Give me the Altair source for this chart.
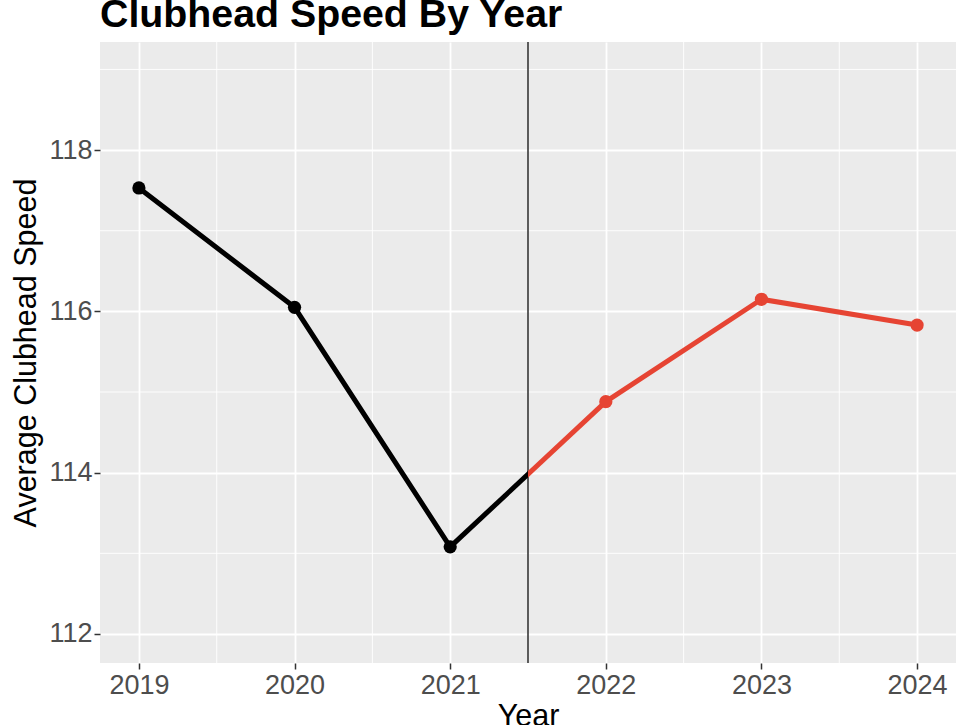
import altair as alt
import pandas as pd

years = [2019, 2020, 2021, 2022, 2023, 2024]
speed = [117.53, 116.05, 113.08, 114.88, 116.15, 115.83]
cutoff = 2021.5
x_ticks = [2019, 2020, 2021, 2022, 2023, 2024]
y_ticks = [112, 114, 116, 118]
x_minor = [2019.5, 2020.5, 2021.5, 2022.5, 2023.5]
y_minor = [113, 115, 117, 119]
x_domain = [2018.75, 2024.25]
y_domain = [111.64, 119.34]

RED = "#E64433"
FONT = "Liberation Sans"

df = pd.DataFrame({"year": years, "speed": speed})
df["period"] = ["before" if y < cutoff else "after" for y in years]

xs = alt.Scale(domain=x_domain, nice=False, zero=False)
ys = alt.Scale(domain=y_domain, nice=False, zero=False)

x_enc = alt.X("year:Q", scale=xs, title="Year",
              axis=alt.Axis(values=x_ticks, format="d", grid=True, gridColor="white", gridWidth=1.8,
                            domain=False, tickColor="#333333", tickSize=6, tickWidth=1.5,
                            labelFont=FONT, labelFontSize=27, labelColor="#4D4D4D", labelPadding=3,
                            titleFont=FONT, titleFontSize=30.5, titleFontWeight="normal", titleColor="black",
                            titleBaseline="alphabetic", titleY=62))
y_enc = alt.Y("speed:Q", scale=ys, title="Average Clubhead Speed",
              axis=alt.Axis(values=y_ticks, format="d", grid=True, gridColor="white", gridWidth=1.8,
                            domain=False, tickColor="#333333", tickSize=6, tickWidth=1.5,
                            labelFont=FONT, labelFontSize=27, labelColor="#4D4D4D", labelPadding=2,
                            titleFont=FONT, titleFontSize=30.5, titleFontWeight="normal", titleColor="black",
                            titleBaseline="alphabetic", titleX=-65))

base = alt.Chart(df)

minor_x = alt.Chart(pd.DataFrame({"v": x_minor})).mark_rule(color="white", strokeWidth=0.9).encode(
    x=alt.X("v:Q", scale=xs))
minor_y = alt.Chart(pd.DataFrame({"v": y_minor})).mark_rule(color="white", strokeWidth=0.9).encode(
    y=alt.Y("v:Q", scale=ys))

vline = alt.Chart(pd.DataFrame({"c": [cutoff]})).mark_rule(color="#1a1a1a", strokeWidth=1.4).encode(
    x=alt.X("c:Q", scale=xs))

frac = cutoff - int(cutoff)
grad = alt.LinearGradient(gradient="linear", x1=0, y1=0, x2=1, y2=0,
                          stops=[alt.GradientStop(color="black", offset=0),
                                 alt.GradientStop(color="black", offset=frac),
                                 alt.GradientStop(color=RED, offset=frac),
                                 alt.GradientStop(color=RED, offset=1)])

line_before = base.transform_filter(alt.datum.year < cutoff).mark_line(
    color="black", strokeWidth=5).encode(x=x_enc, y=y_enc)
line_after = base.transform_filter(alt.datum.year > cutoff).mark_line(
    color=RED, strokeWidth=5).encode(x=x_enc, y=y_enc)
line_bridge = base.transform_filter(
    (alt.datum.year >= int(cutoff)) & (alt.datum.year <= int(cutoff) + 1)
).mark_line(stroke=grad, strokeWidth=5).encode(x=x_enc, y=y_enc)

points = base.mark_circle(size=175, opacity=1).encode(
    x=x_enc, y=y_enc,
    color=alt.Color("period:N", scale=alt.Scale(domain=["before", "after"], range=["black", RED]),
                    legend=None))

chart = alt.layer(minor_x, minor_y, vline, line_before, line_bridge, line_after, points).properties(
    width=856, height=621,
    title=alt.TitleParams("Clubhead Speed By Year", anchor="start", frame="group", font=FONT,
                          fontSize=39.3, fontWeight="bold", color="black", baseline="bottom",
                          offset=6, dy=39),
    autosize=alt.AutoSizeParams(type="none"),
    padding={"left": 100, "top": 42, "right": 10, "bottom": 62},
).configure_view(fill="#EBEBEB", strokeWidth=0)

chart.save("out.html", embed_options={"renderer": "svg", "actions": False})
